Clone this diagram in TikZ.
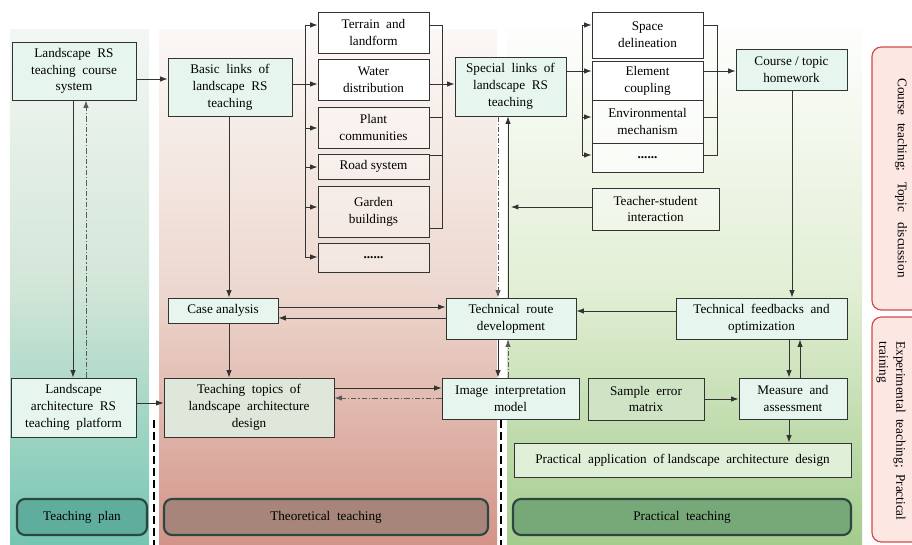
\documentclass[tikz,border=0pt]{standalone}
\usepackage{fontspec}
\setmainfont{Liberation Serif}
\usetikzlibrary{arrows.meta,calc}
\definecolor{linec}{HTML}{333333}
\definecolor{mint}{HTML}{E6F6EF}
\definecolor{topicfill}{HTML}{DFE7DA}
\definecolor{samplefill}{HTML}{CFE4C5}
\definecolor{appfill}{HTML}{E0EFD8}
\definecolor{ddc}{HTML}{5A5A5A}
\definecolor{plantop}{HTML}{F3F7F3}
\definecolor{planmid}{HTML}{D2E6D8}
\definecolor{planbot}{HTML}{74C5B2}
\definecolor{theotop}{HTML}{FBF8F6}
\definecolor{theomid}{HTML}{EDD8CF}
\definecolor{theobot}{HTML}{D39488}
\definecolor{practop}{HTML}{FDFEFC}
\definecolor{pracmid}{HTML}{E2EFD5}
\definecolor{pracbot}{HTML}{A4CC8D}
\definecolor{redline}{HTML}{D24A48}
\definecolor{redfill}{HTML}{FCE7E3}
\definecolor{labline}{HTML}{2C4640}
\definecolor{planlab}{HTML}{5EAD9D}
\definecolor{theolab}{HTML}{A7857A}
\definecolor{praclab}{HTML}{77A878}
\newcommand\bx[7]{\node[#2, minimum width={(#5-#3)*0.75pt}, minimum height={(#6-#4)*0.75pt}] (#1) at ({(#3+#5)/2},{(#4+#6)/2}) {#7};}
\tikzset{
  base/.style={draw=linec, line width=0.65pt, inner sep=1pt, align=center, text=black},
  mintbox/.style={base, fill=mint},
  whitebox/.style={base, fill=white},
  tintbox/.style={base, fill=white, fill opacity=0.35, text opacity=1},
  semibox/.style={base, fill=white, fill opacity=0.7, text opacity=1},
  topicbox/.style={base, fill=topicfill},
  samplebox/.style={base, fill=samplefill},
  appbox/.style={base, fill=appfill},
  arr/.style={draw=linec, line width=0.65pt, -{Latex[length=5.5pt,width=4pt]}},
  ln/.style={draw=linec, line width=0.65pt},
  dd/.style={draw=ddc, line width=0.65pt, dash pattern=on 4pt off 1.5pt on 1pt off 1.5pt, -{Latex[length=5.5pt,width=4pt]}},
  sep/.style={draw=black, line width=1.1pt, dash pattern=on 6pt off 3pt},
  labbox/.style={draw=labline, line width=1.6pt, rounded corners=6pt, minimum height=27pt, text=black},
  redbox/.style={draw=redline, line width=0.9pt, fill=redfill, rounded corners=7pt}
}
\begin{document}
\begin{tikzpicture}[x=0.75pt,y=-0.75pt, font=\fontsize{9.9}{12.6}\selectfont]
\useasboundingbox (0,0) rectangle (912,545);
\clip (0,0) rectangle (912,545);
% background panels
\shade[top color=plantop, bottom color=planbot, middle color=planmid] (10,30) rectangle (149,545);
\shade[top color=theotop, bottom color=theobot, middle color=theomid] (159,30) rectangle (497,545);
\shade[top color=practop, bottom color=pracbot, middle color=pracmid] (507,30) rectangle (862,545);
\draw[sep] (154,420) -- (154,545);
\draw[sep] (501,420) -- (501,545);
% right side red boxes
\draw[redbox] (872,47) rectangle (940,310);
\draw[redbox] (872,317) rectangle (940,542);
\node[rotate=-90, align=center] (ctd) at (901,178) {Course\hspace{3pt} teaching;\hspace{8pt}Topic\hspace{8pt}discussion};
\node[rotate=-90, align=left] (etp) at (891,431) {Experimental\ \ teaching;\ \ Practical\\training};
% bottom labels
\node[labbox, fill=planlab, minimum width={130*0.75pt}] (tplan) at (82,517) {Teaching\ \ plan};
\node[labbox, fill=theolab, minimum width={324*0.75pt}] (theo) at (326,517) {Theoretical\ \ teaching};
\node[labbox, fill=praclab, minimum width={338*0.75pt}] (prac) at (682,517) {Practical\ \ teaching};
% nodes
\bx{sys}{mintbox}{12}{42}{136}{100}{Landscape\ \ RS\\teaching\ \ course\\system}
\bx{basic}{mintbox}{168}{58}{292}{116}{Basic\ \ links\ \ of\\landscape\ \ RS\\teaching}
\bx{terrain}{whitebox}{318}{12}{429}{53}{Terrain\ \ and\\landform}
\bx{water}{whitebox}{318}{59}{429}{100}{Water\\distribution}
\bx{plant}{tintbox}{318}{107}{429}{148}{Plant\\communities}
\bx{road}{tintbox}{318}{154}{429}{179}{Road system}
\bx{garden}{tintbox}{318}{186}{429}{237}{Garden\\buildings}
\bx{dotsa}{tintbox}{318}{243}{429}{272}{\textbf{......}}
\bx{special}{mintbox}{455}{57}{566}{116}{Special\ \ links\ \ of\\landscape\ \ RS\\teaching}
\bx{space}{whitebox}{592}{12}{703}{58}{Space\\delineation}
\bx{element}{whitebox}{592}{61}{703}{100}{Element\\coupling}
\bx{env}{semibox}{592}{100}{703}{143}{Environmental\\mechanism}
\bx{dotsb}{semibox}{592}{143}{703}{172}{\textbf{......}}
\bx{course}{mintbox}{736}{49}{847}{90}{Course / topic\\homework}
\bx{teacher}{tintbox}{592}{188}{719}{230}{Teacher-student\\interaction}
\bx{case}{mintbox}{168}{298}{278}{323}{Case analysis}
\bx{route}{mintbox}{446}{298}{576}{339}{Technical\ \ route\\development}
\bx{feedback}{mintbox}{676}{298}{847}{339}{Technical\ \ feedbacks\ \ and\\optimization}
\bx{plat}{mintbox}{11}{378}{136}{437}{Landscape\\architecture\ \ RS\\teaching\ \ platform}
\bx{topics}{topicbox}{164}{378}{334}{437}{Teaching\ \ topics\ \ of\\landscape\ \ architecture\\design}
\bx{image}{mintbox}{442}{378}{579}{419}{Image\ \ interpretation\\model}
\bx{sample}{samplebox}{588}{378}{704}{420}{Sample\ \ error\\matrix}
\bx{measure}{mintbox}{739}{378}{847}{419}{Measure\ \ and\\assessment}
\bx{app}{appbox}{514}{443}{851}{477}{Practical\ \ application\ \ of landscape\ \ architecture\ \ design}
% bracket coordinates
\coordinate (bl) at (305,84);
\coordinate (br) at (442,84);
\coordinate (sl) at (582,71);
\coordinate (sr) at (717,71);
\coordinate (tsend) at (511,207);
% connectors left column
\draw[arr] (sys.east |- 0,79) -- (basic.west |- 0,79);
\draw[arr] (sys.south -| 73,0) -- (plat.north -| 73,0);
\draw[dd] (plat.north -| 86,0) -- (sys.south -| 86,0);
\draw[arr] (plat.east |- 0,403) -- (topics.west |- 0,403);
% basic links bracket
\draw[ln] (basic.east |- bl) -- (bl);
\draw[ln] (bl |- 0,25) -- (bl |- 0,257);
\draw[arr] (bl |- 0,25) -- (terrain.west |- 0,25);
\draw[arr] (bl) -- (water.west |- bl);
\draw[arr] (bl |- 0,128) -- (plant.west |- 0,128);
\draw[arr] (bl |- 0,167) -- (road.west |- 0,167);
\draw[arr] (bl |- 0,207) -- (garden.west |- 0,207);
\draw[arr] (bl |- 0,257) -- (dotsa.west |- 0,257);
\draw[ln] (terrain.east |- 0,25) -- (br |- 0,25) -- (br |- 0,228) -- (garden.east |- 0,228);
\draw[ln] (water.east |- br) -- (br);
\draw[ln] (plant.east |- 0,117) -- (br |- 0,117);
\draw[ln] (road.east |- 0,155) -- (br |- 0,155);
\draw[arr] (br) -- (special.west |- br);
% special links bracket
\draw[ln] (special.east |- sl) -- (sl);
\draw[ln] (sl |- 0,25) -- (sl |- 0,155);
\draw[arr] (sl |- 0,25) -- (space.west |- 0,25);
\draw[arr] (sl) -- (element.west |- sl);
\draw[arr] (sl |- 0,117) -- (env.west |- 0,117);
\draw[arr] (sl |- 0,155) -- (dotsb.west |- 0,155);
\draw[ln] (space.east |- 0,25) -- (sr |- 0,25) -- (sr |- 0,155) -- (dotsb.east |- 0,155);
\draw[ln] (element.east |- sr) -- (sr);
\draw[ln] (env.east |- 0,117) -- (sr |- 0,117);
\draw[arr] (sr) -- (course.west |- sr);
% middle
\draw[arr] (course.south -| 792,0) -- (feedback.north -| 792,0);
\draw[arr] (teacher.west |- tsend) -- (tsend);
\draw[dd] (special.south -| 498,0) -- (route.north -| 498,0);
\draw[arr] (route.north -| 508,0) -- (special.south -| 508,0);
\draw[arr] (basic.south -| 229,0) -- (case.north -| 229,0);
\draw[arr] (case.south -| 229,0) -- (topics.north -| 229,0);
\draw[arr] (case.east |- 0,307) -- (route.west |- 0,307);
\draw[arr] (route.west |- 0,318) -- (case.east |- 0,318);
\draw[arr] (topics.east |- 0,388) -- (image.west |- 0,388);
\draw[dd] (image.west |- 0,398) -- (topics.east |- 0,398);
\draw[arr] (route.south -| 498,0) -- (image.north -| 498,0);
\draw[dd] (image.north -| 508,0) -- (route.south -| 508,0);
\draw[arr] (feedback.west |- 0,311) -- (route.east |- 0,311);
\draw[arr] (feedback.south -| 789,0) -- (measure.north -| 789,0);
\draw[arr] (measure.north -| 800,0) -- (feedback.south -| 800,0);
\draw[arr] (sample.east |- 0,399) -- (measure.west |- 0,399);
\draw[arr] (measure.south -| 789,0) -- (app.north -| 789,0);
\end{tikzpicture}
\end{document}
